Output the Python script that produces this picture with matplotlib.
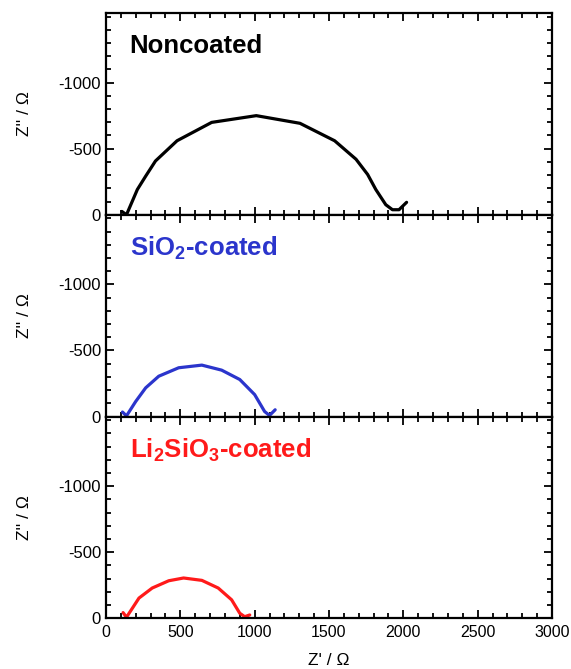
import matplotlib
matplotlib.use('Agg')
import matplotlib.pyplot as plt
from matplotlib.ticker import MultipleLocator

plt.rcParams['font.family'] = ['Liberation Sans', 'DejaVu Sans']
plt.rcParams['axes.unicode_minus'] = False
plt.rcParams['mathtext.fontset'] = 'custom'
plt.rcParams['mathtext.rm'] = 'Liberation Sans:bold'
plt.rcParams['mathtext.bf'] = 'Liberation Sans:bold'

# Nyquist data (Z' in ohm, Z'' in ohm, negative = up)
non_x = [107, 138, 211, 267, 333, 478, 711, 1011, 1305, 1538, 1682, 1760, 1815, 1882, 1927, 1971, 2022]
non_y = [-25, 0, -191, -292, -407, -560, -699, -750, -692, -560, -420, -305, -191, -76, -38, -38, -94]

sio2_x = [111, 138, 200, 267, 355, 489, 645, 778, 900, 1000, 1067, 1100, 1138]
sio2_y = [-34, -5, -114, -217, -305, -369, -389, -351, -280, -166, -38, -8, -51]

li_x = [115, 138, 222, 311, 422, 522, 645, 755, 845, 900, 933, 967]
li_y = [-43, -8, -153, -229, -284, -305, -287, -229, -140, -38, -12, -25]

labels = ['Noncoated', 'SiO$_2$-coated', 'Li$_2$SiO$_3$-coated']
colors = ['black', '#2b35cc', '#ff1a1a']
series = [(non_x, non_y), (sio2_x, sio2_y), (li_x, li_y)]

fig = plt.figure(figsize=(5.71, 6.69), dpi=100)
left, right, top, bottom = 0.1856, 0.9667, 0.9806, 0.0758
h = (top - bottom) / 3

for i, ((xs, ys), lab, col) in enumerate(zip(series, labels, colors)):
    ax = fig.add_axes([left, top - (i + 1) * h, right - left, h])
    ax.plot(xs, ys, color=col, lw=2.3, solid_joinstyle='round', solid_capstyle='round')
    ax.set_xlim(0, 3000)
    ax.set_ylim(0, -1527)
    ax.set_yticks([0, -500, -1000])
    ax.xaxis.set_major_locator(MultipleLocator(500))
    ax.xaxis.set_minor_locator(MultipleLocator(100))
    ax.yaxis.set_minor_locator(MultipleLocator(100))
    ax.tick_params(which='both', direction='in', top=True, right=True, width=1.3, labelsize=12)
    ax.tick_params(which='major', length=6)
    ax.tick_params(which='minor', length=3.5)
    for s in ax.spines.values():
        s.set_linewidth(1.6)
    ax.set_ylabel("Z'' / Ω", fontsize=12.5, labelpad=19)
    ax.text(0.053, 0.835, lab, transform=ax.transAxes, color=col,
            fontsize=18.5, fontweight='bold', va='center', ha='left')
    if i < 2:
        ax.tick_params(labelbottom=False)
    else:
        ax.tick_params(axis='x', pad=5, labelsize=11.5)
        ax.set_xlabel("Z' / Ω", fontsize=12.5, labelpad=9)

fig.savefig('out.png', dpi=100)
